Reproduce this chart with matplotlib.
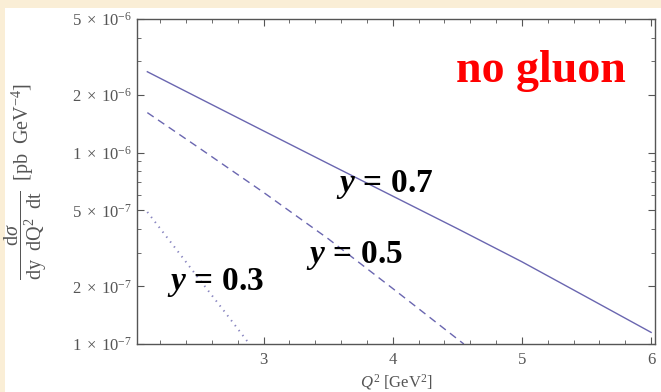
import numpy as np
import matplotlib.pyplot as plt
from matplotlib.patches import Rectangle
from matplotlib.ticker import FixedLocator, NullFormatter

plt.rcParams['font.family'] = ['Liberation Serif', 'DejaVu Serif']
plt.rcParams['mathtext.fontset'] = 'custom'
plt.rcParams['mathtext.rm'] = 'Liberation Serif'
plt.rcParams['mathtext.it'] = 'Liberation Serif:italic'
plt.rcParams['mathtext.bf'] = 'Liberation Serif:bold'
plt.rcParams['mathtext.bfit'] = 'Liberation Serif:bold:italic'

# cross sections vs Q^2, no gluon contribution
q2_y07 = [2.1, 2.5, 3.0, 3.5, 4.0, 4.5, 5.0, 5.5, 6.0]
xs_y07 = [2.65e-6, 1.93e-6, 1.30e-6, 8.77e-7, 5.93e-7, 4.01e-7, 2.69e-7, 1.76e-7, 1.15e-7]

q2_y05 = [2.1, 2.5, 3.0, 3.5, 4.0, 4.55]
xs_y05 = [1.62e-6, 1.06e-6, 6.2e-7, 3.55e-7, 1.95e-7, 1.0e-7]

q2_y03 = [2.1, 2.3, 2.5, 2.7, 2.9]
xs_y03 = [4.9e-7, 3.28e-7, 2.19e-7, 1.47e-7, 9.8e-8]

ytick_vals = [1e-7, 2e-7, 5e-7, 1e-6, 2e-6, 5e-6]
ytick_labels = [r'$1\;\times\;10^{-7}$', r'$2\;\times\;10^{-7}$', r'$5\;\times\;10^{-7}$',
                r'$1\;\times\;10^{-6}$', r'$2\;\times\;10^{-6}$', r'$5\;\times\;10^{-6}$']
yminor_vals = [3e-7, 4e-7, 6e-7, 7e-7, 8e-7, 9e-7, 3e-6, 4e-6]
xtick_vals = [3, 4, 5, 6]

line_col = '#6a66b0'
axis_col = '#555555'

fig = plt.figure(figsize=(6.61, 3.92), dpi=100, facecolor='#faeed6')
# white slide panel behind the plot
fig.patches.append(Rectangle((5/661, 0), 1, 1 - 8/392, transform=fig.transFigure,
                             facecolor='white', edgecolor='none', zorder=-10))
ax = fig.add_axes([137/661, 1 - 344/392, 518/661, 325/392])
ax.set_facecolor('none')

ax.plot(q2_y07, xs_y07, color=line_col, lw=1.0)
ax.plot(q2_y05, xs_y05, color=line_col, lw=1.0, linestyle=(0, (5.5, 3.8)))
ax.plot(q2_y03, xs_y03, color=line_col, lw=1.4, linestyle=(0, (0.7, 2.5)), alpha=0.8)

ax.set_yscale('log')
ax.set_xlim(2.02, 6.03)
ax.set_ylim(1e-7, 5e-6)

ax.yaxis.set_major_locator(FixedLocator(ytick_vals))
ax.set_yticklabels(ytick_labels)
ax.yaxis.set_minor_locator(FixedLocator(yminor_vals))
ax.yaxis.set_minor_formatter(NullFormatter())
ax.xaxis.set_major_locator(FixedLocator(xtick_vals))
ax.xaxis.set_minor_locator(FixedLocator(np.arange(2.2, 6.0, 0.2)))

ax.tick_params(which='both', direction='in', top=True, right=True,
               color=axis_col, labelcolor=axis_col, labelsize=12)
ax.tick_params(which='major', length=5, width=0.8)
ax.tick_params(which='minor', length=3, width=0.6)
ax.tick_params(axis='x', pad=6)
for s in ax.spines.values():
    s.set_color(axis_col)
    s.set_linewidth(1.0)

ax.set_xlabel(r'$Q^2\ [\mathrm{GeV}^2]$', fontsize=12, color=axis_col, labelpad=3)
ax.set_ylabel(r'$\dfrac{\mathrm{d}\sigma}{\mathrm{dy\ \ dQ^2\ \ dt}}\ \ [\mathrm{pb\ \ GeV^{-4}}]$',
              fontsize=14.5, color=axis_col)
ax.yaxis.set_label_coords(-0.17, 0.5)

lab_kw = dict(ha='center', va='baseline', fontsize=24, color='black')
ax.text(3.94, 6.25e-7, r'$\mathbfit{y}\,\mathbf{=}\,\mathbf{0.7}$', **lab_kw)
ax.text(3.705, 2.65e-7, r'$\mathbfit{y}\,\mathbf{=}\,\mathbf{0.5}$', **lab_kw)
ax.text(2.632, 1.92e-7, r'$\mathbfit{y}\,\mathbf{=}\,\mathbf{0.3}$', **lab_kw)
ax.text(5.15, 2.35e-6, 'no gluon', ha='center', va='baseline', fontsize=33,
        fontweight='bold', color='#ff0000')

fig.savefig('out.png', dpi=100, facecolor=fig.get_facecolor())
